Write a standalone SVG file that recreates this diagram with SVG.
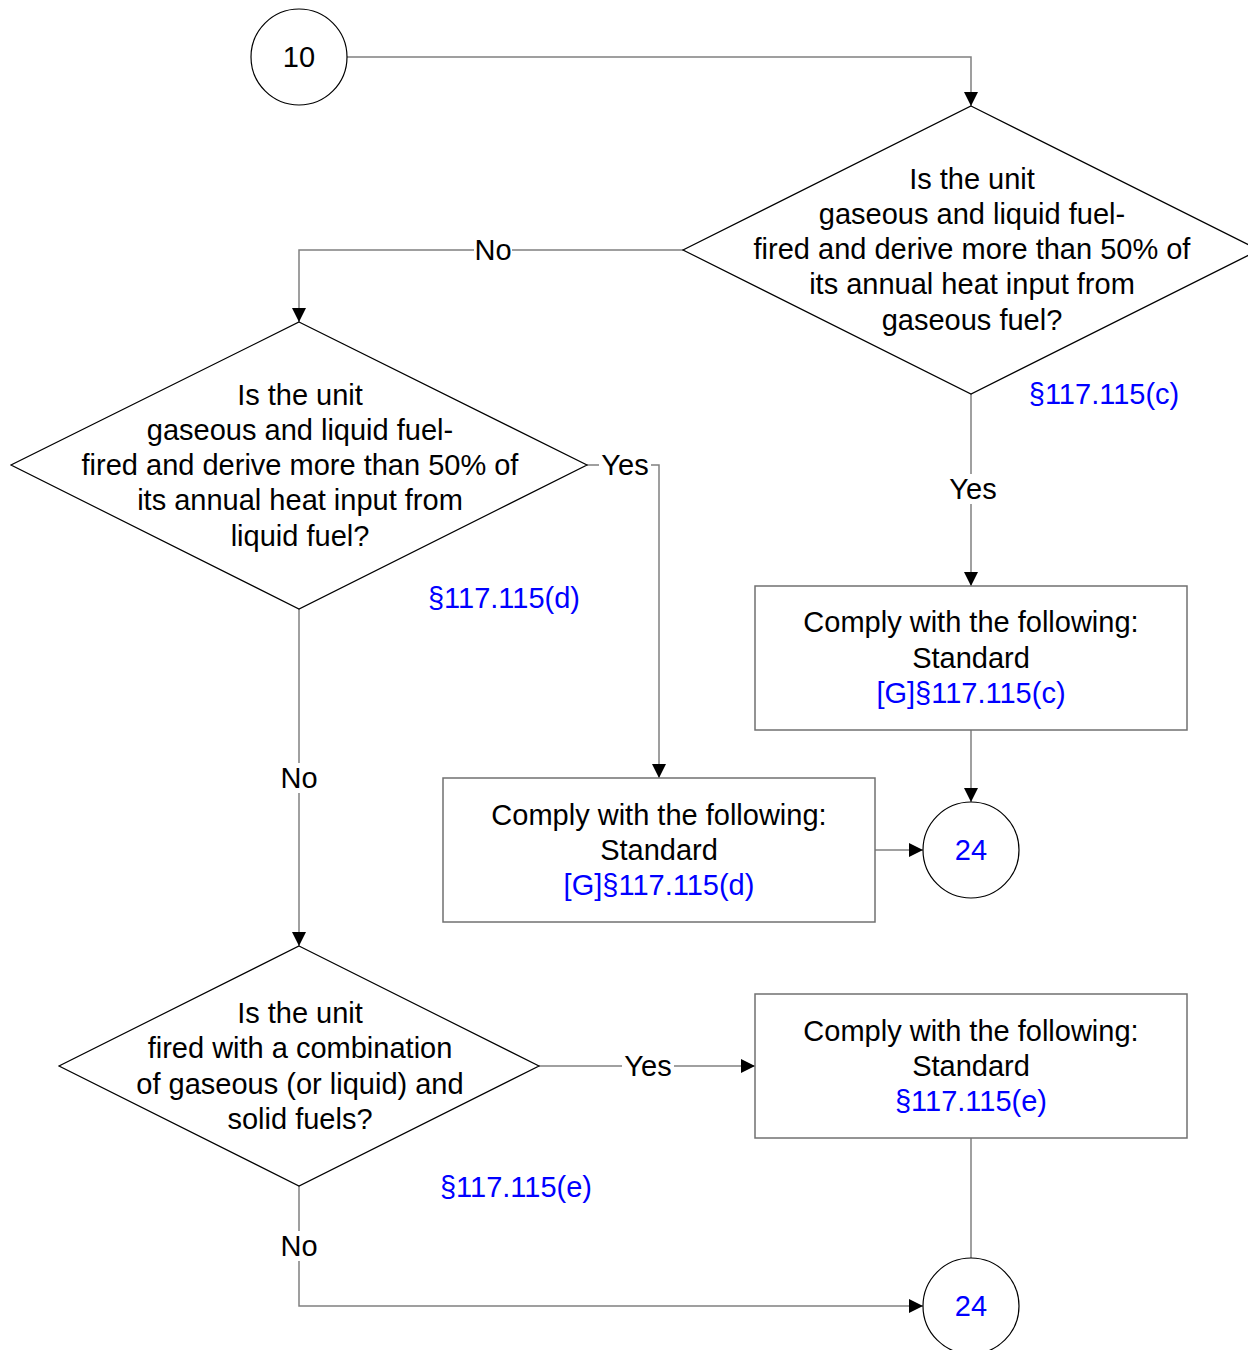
<svg xmlns="http://www.w3.org/2000/svg" width="1248" height="1350" viewBox="0 0 1248 1350">
<style>
text{font-family:"Liberation Sans",Arial,sans-serif;font-size:29px;text-anchor:middle;fill:#000}
.b{fill:#0000ff}
.sh{fill:#fff;stroke:#000;stroke-width:1.2}
.bx{fill:#fff;stroke:#707070;stroke-width:1.5}
.c{fill:none;stroke:#808080;stroke-width:1.5}
.lb{fill:#fff}
</style>
<defs>
<marker id="a" viewBox="0 0 10 10" refX="10" refY="5" markerWidth="14" markerHeight="14" markerUnits="userSpaceOnUse" orient="auto">
<path d="M0,0 L10,5 L0,10 z" fill="#000"/>
</marker>
</defs>
<rect width="1248" height="1350" fill="#fff"/>
<g id="connectors">
<path class="c" d="M347,57 H971 V106" marker-end="url(#a)"/>
<path class="c" d="M683,250 H299 V322" marker-end="url(#a)"/>
<path class="c" d="M971,394 V586" marker-end="url(#a)"/>
<path class="c" d="M971,730 V802" marker-end="url(#a)"/>
<path class="c" d="M587,465 H659 V778" marker-end="url(#a)"/>
<path class="c" d="M299,609 V946" marker-end="url(#a)"/>
<path class="c" d="M875,850 H923" marker-end="url(#a)"/>
<path class="c" d="M539,1066 H755" marker-end="url(#a)"/>
<path class="c" d="M971,1138 V1258"/>
<path class="c" d="M299,1186 V1306 H923" marker-end="url(#a)"/>
<rect class="lb" x="474" y="235" width="38" height="30"/>
<text x="493" y="260">No</text>
<rect class="lb" x="947" y="474" width="52" height="30"/>
<text x="973" y="499">Yes</text>
<rect class="lb" x="599" y="450" width="52" height="30"/>
<text x="625" y="475">Yes</text>
<rect class="lb" x="280" y="763" width="38" height="30"/>
<text x="299" y="788">No</text>
<rect class="lb" x="622" y="1051" width="52" height="30"/>
<text x="648" y="1076">Yes</text>
<rect class="lb" x="280" y="1231" width="38" height="30"/>
<text x="299" y="1256">No</text>
<text class="b" x="1104" y="404">§117.115(c)</text>
<text class="b" x="504" y="608">§117.115(d)</text>
<text class="b" x="516" y="1197">§117.115(e)</text>
</g>
<g id="start10">
<circle class="sh" cx="299" cy="57" r="48"/>
<text x="299" y="67">10</text>
</g>
<g id="decision1">
<polygon class="sh" points="971,106 1259,250 971,394 683,250"/>
<text x="972" y="189">Is the unit</text>
<text x="972" y="224">gaseous and liquid fuel-</text>
<text x="972" y="259">fired and derive more than 50% of</text>
<text x="972" y="294">its annual heat input from</text>
<text x="972" y="330">gaseous fuel?</text>
</g>
<g id="decision2">
<polygon class="sh" points="299,322 587,465 299,609 11,465"/>
<text x="300" y="405">Is the unit</text>
<text x="300" y="440">gaseous and liquid fuel-</text>
<text x="300" y="475">fired and derive more than 50% of</text>
<text x="300" y="510">its annual heat input from</text>
<text x="300" y="546">liquid fuel?</text>
</g>
<g id="decision3">
<polygon class="sh" points="299,946 539,1066 299,1186 59,1066"/>
<text x="300" y="1023">Is the unit</text>
<text x="300" y="1058">fired with a combination</text>
<text x="300" y="1094">of gaseous (or liquid) and</text>
<text x="300" y="1129">solid fuels?</text>
</g>
<g id="boxC">
<rect class="bx" x="755" y="586" width="432" height="144"/>
<text x="971" y="632">Comply with the following:</text>
<text x="971" y="668">Standard</text>
<text class="b" x="971" y="703">[G]§117.115(c)</text>
</g>
<g id="boxD">
<rect class="bx" x="443" y="778" width="432" height="144"/>
<text x="659" y="825">Comply with the following:</text>
<text x="659" y="860">Standard</text>
<text class="b" x="659" y="895">[G]§117.115(d)</text>
</g>
<g id="boxE">
<rect class="bx" x="755" y="994" width="432" height="144"/>
<text x="971" y="1041">Comply with the following:</text>
<text x="971" y="1076">Standard</text>
<text class="b" x="971" y="1111">§117.115(e)</text>
</g>
<g id="off24a">
<circle class="sh" cx="971" cy="850" r="48"/>
<text class="b" x="971" y="860">24</text>
</g>
<g id="off24b">
<circle class="sh" cx="971" cy="1306" r="48"/>
<text class="b" x="971" y="1316">24</text>
</g>
</svg>
